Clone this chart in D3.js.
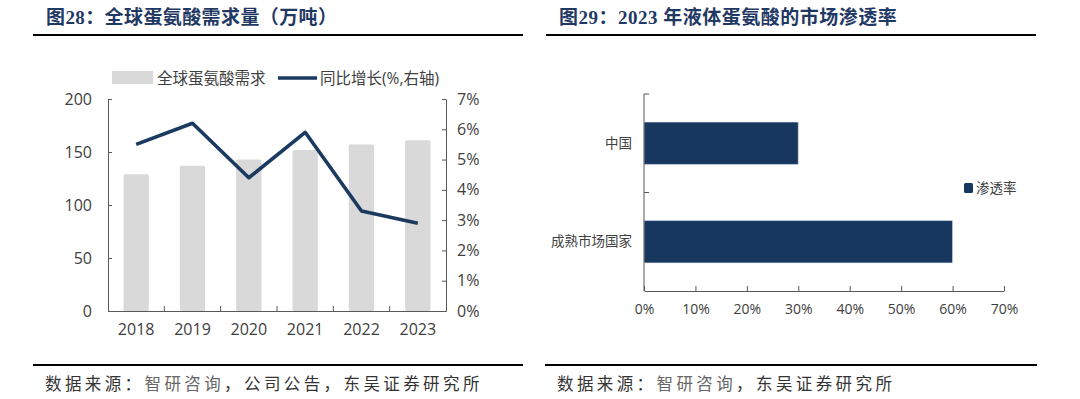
<!DOCTYPE html>
<html>
<head>
<meta charset="utf-8">
<script src="https://cdn.jsdelivr.net/npm/d3@7"></script>
<style>
  html, body { margin: 0; padding: 0; background: #fff; }
  svg { display: block; }
  .title { font-family: "Liberation Serif", "Noto Sans CJK SC", serif; font-weight: bold; fill: #1f3864; font-size: 19px; }
  .source { font-family: "Noto Sans CJK SC", sans-serif; font-size: 16.5px; fill: #333; letter-spacing: 3.4px; }
  .chart text { font-family: "Open Sans", "Noto Sans CJK SC", sans-serif; fill: #404040; }
  .axis path, .axis line { stroke: #595959; stroke-width: 1; }
</style>
</head>
<body>
<svg id="chart" width="1080" height="399"></svg>
<script>
// left chart data
const years = ['2018', '2019', '2020', '2021', '2022', '2023'];
const demand = [129, 137, 143, 152, 157, 161]; // 万吨
const growth = [5.5, 6.2, 4.4, 5.9, 3.3, 2.9]; // %
const demandTicks = [0, 50, 100, 150, 200];
const growthTicks = [0, 1, 2, 3, 4, 5, 6, 7];

// right chart data
const regions = ['中国', '成熟市场国家'];
const penetration = [30, 60]; // %
const pctTicks = [0, 10, 20, 30, 40, 50, 60, 70];

const svg = d3.select('#chart');

// titles, rules, sources
svg.append('text').attr('class', 'title').attr('x', 46).attr('y', 24)
  .attr('letter-spacing', 0.4)
  .text('图28：全球蛋氨酸需求量（万吨）');
svg.append('text').attr('class', 'title').attr('x', 559).attr('y', 24)
  .attr('letter-spacing', 0.5)
  .text('图29：2023 年液体蛋氨酸的市场渗透率');

[[33, 523, 35], [546, 1036, 35], [33, 523, 365], [545, 1037, 365]].forEach(r => {
  svg.append('line')
    .attr('x1', r[0]).attr('x2', r[1]).attr('y1', r[2]).attr('y2', r[2])
    .attr('stroke', '#000').attr('stroke-width', 2);
});

const src1 = svg.append('text').attr('class', 'source').attr('x', 45).attr('y', 390);
src1.append('tspan').text('数据来源：');
src1.append('tspan').attr('fill', '#666').text('智研咨询');
src1.append('tspan').text('，公司公告，东吴证券研究所');

const src2 = svg.append('text').attr('class', 'source').attr('x', 557).attr('y', 390);
src2.append('tspan').text('数据来源：');
src2.append('tspan').attr('fill', '#666').text('智研咨询');
src2.append('tspan').text('，东吴证券研究所');

// ---------- left: demand bars + growth line ----------
const left = svg.append('g').attr('class', 'chart');

const x = d3.scaleBand().domain(years).range([108, 446]);
const yL = d3.scaleLinear().domain([0, 200]).range([311, 99]);
const yR = d3.scaleLinear().domain([0, 7]).range([311, 99]);
const barW = x.bandwidth() * 0.45;

left.selectAll('rect.bar')
  .data(years)
  .enter().append('rect')
  .attr('class', 'bar')
  .attr('x', (d, i) => x(d) + x.bandwidth() / 2 - barW / 2)
  .attr('y', (d, i) => yL(demand[i]))
  .attr('width', barW)
  .attr('height', (d, i) => yL(0) - yL(demand[i]))
  .attr('rx', 1.5)
  .attr('fill', '#d9d9d9');

left.append('path')
  .datum(years)
  .attr('fill', 'none')
  .attr('stroke', '#1b3a5f')
  .attr('stroke-width', 3.6)
  .attr('stroke-linejoin', 'round')
  .attr('d', d3.line()
    .x(d => x(d) + x.bandwidth() / 2)
    .y((d, i) => yR(growth[i])));

left.append('g')
  .attr('class', 'axis')
  .attr('transform', 'translate(108,0)')
  .call(d3.axisLeft(yL).tickValues(demandTicks).tickSizeInner(-4).tickSizeOuter(0).tickPadding(16))
  .call(g => g.selectAll('text').style('font-size', '16px'));

left.append('g')
  .attr('class', 'axis')
  .attr('transform', 'translate(446,0)')
  .call(d3.axisRight(yR).tickValues(growthTicks).tickSizeInner(-4).tickSizeOuter(0).tickPadding(11)
    .tickFormat(d => d + '%'))
  .call(g => g.selectAll('text').style('font-size', '16px'));

const xAxis = left.append('g')
  .attr('class', 'axis')
  .attr('transform', 'translate(0,311)');
xAxis.call(d3.axisBottom(x).tickSize(0).tickPadding(13))
  .call(g => g.selectAll('text').style('font-size', '16px'));
xAxis.selectAll('line.sep')
  .data(years.slice(1))
  .enter().append('line')
  .attr('class', 'sep')
  .attr('x1', d => x(d)).attr('x2', d => x(d))
  .attr('y1', 0).attr('y2', -5);

// legend
const lg = left.append('g');
lg.append('rect').attr('x', 112).attr('y', 71).attr('width', 41).attr('height', 13).attr('fill', '#d9d9d9');
lg.append('text').attr('x', 157).attr('y', 78).attr('dy', '0.36em').style('font-size', '15.5px')
  .text('全球蛋氨酸需求');
lg.append('line').attr('x1', 278).attr('x2', 317).attr('y1', 78).attr('y2', 78)
  .attr('stroke', '#1b3a5f').attr('stroke-width', 3.6);
lg.append('text').attr('x', 320).attr('y', 78).attr('dy', '0.36em').style('font-size', '15.5px')
  .text('同比增长(%,右轴)');

// ---------- right: penetration bars ----------
const right = svg.append('g').attr('class', 'chart');

const xP = d3.scaleLinear().domain([0, 70]).range([644, 1004]);
const yB = d3.scaleBand().domain(regions).range([94, 291]);
const barH = yB.bandwidth() * 0.43;

right.selectAll('rect.hbar')
  .data(regions)
  .enter().append('rect')
  .attr('class', 'hbar')
  .attr('x', xP(0))
  .attr('y', d => yB(d) + yB.bandwidth() / 2 - barH / 2)
  .attr('width', (d, i) => xP(penetration[i]) - xP(0))
  .attr('height', barH)
  .attr('rx', 1)
  .attr('fill', '#17375e')
  .attr('stroke', '#dbe3ee')
  .attr('stroke-width', 0.6);

right.append('g')
  .attr('class', 'axis')
  .attr('transform', 'translate(0,291)')
  .call(d3.axisBottom(xP).tickValues(pctTicks).tickSizeInner(-5).tickSizeOuter(0).tickPadding(13)
    .tickFormat(d => d + '%'))
  .call(g => g.selectAll('text').style('font-size', '14px'));

const yAxis = right.append('g')
  .attr('class', 'axis')
  .attr('transform', 'translate(644,0)');
yAxis.call(d3.axisLeft(yB).tickSize(0).tickPadding(12))
  .call(g => g.select('.domain').remove())
  .call(g => g.selectAll('text').style('font-size', '13.5px'));
yAxis.append('line').attr('y1', 94).attr('y2', 291);
yAxis.selectAll('line.sep')
  .data(regions)
  .enter().append('line')
  .attr('class', 'sep')
  .attr('x1', 0).attr('x2', 5)
  .attr('y1', d => yB(d)).attr('y2', d => yB(d));

const lgR = right.append('g');
lgR.append('rect').attr('x', 964).attr('y', 183).attr('width', 9).attr('height', 10).attr('rx', 1.5)
  .attr('fill', '#17375e');
lgR.append('text').attr('x', 976).attr('y', 188).attr('dy', '0.36em').style('font-size', '13.5px')
  .text('渗透率');
</script>
</body>
</html>
